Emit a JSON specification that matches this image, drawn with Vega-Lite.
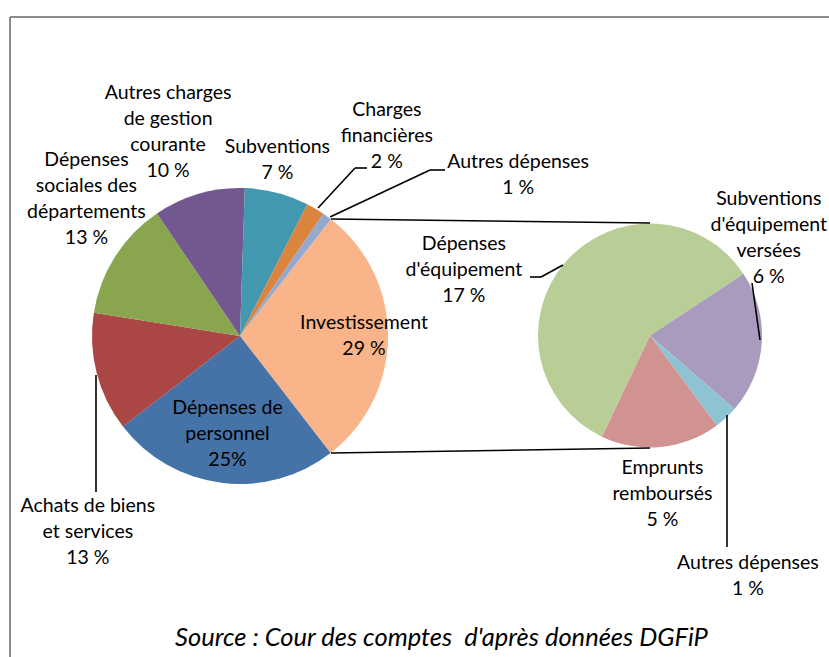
{
  "$schema": "https://vega.github.io/schema/vega-lite/v6.json",
  "width": 829,
  "height": 657,
  "autosize": "none",
  "padding": 0,
  "background": "white",
  "config": {
    "view": {"stroke": null},
    "text": {"font": "Lato", "fontSize": 19.5, "lineHeight": 26, "lineBreak": "\n", "color": "#000000", "align": "center", "baseline": "middle"},
    "rule": {"stroke": "#000000", "strokeWidth": 1.6}
  },
  "title": {
    "text": "Source : Cour des comptes \u00a0d'après données DGFiP",
    "orient": "bottom",
    "anchor": "middle",
    "frame": "group",
    "offset": -32,
    "dx": 27,
    "font": "Lato",
    "fontSize": 25.5,
    "fontStyle": "italic",
    "fontWeight": "normal",
    "color": "#000000"
  },
  "datasets": {
    "principal": [
      {"rang": 1, "poste": "Investissement", "part": 29, "etiquette": "Investissement\n29 %"},
      {"rang": 2, "poste": "Dépenses de personnel", "part": 25, "etiquette": "Dépenses de\npersonnel\n25%"},
      {"rang": 3, "poste": "Achats de biens et services", "part": 13, "etiquette": "Achats de biens\net services\n13 %"},
      {"rang": 4, "poste": "Dépenses sociales des départements", "part": 13, "etiquette": "Dépenses\nsociales des\ndépartements\n13 %"},
      {"rang": 5, "poste": "Autres charges de gestion courante", "part": 10, "etiquette": "Autres charges\nde gestion\ncourante\n10 %"},
      {"rang": 6, "poste": "Subventions", "part": 7, "etiquette": "Subventions\n7 %"},
      {"rang": 7, "poste": "Charges financières", "part": 2, "etiquette": "Charges\nfinancières\n2 %"},
      {"rang": 8, "poste": "Autres dépenses", "part": 1, "etiquette": "Autres dépenses\n1 %"}
    ],
    "investissement": [
      {"rang": 1, "poste": "Subventions d'équipement versées", "part": 6, "etiquette": "Subventions\nd'équipement\nversées\n6 %"},
      {"rang": 2, "poste": "Autres dépenses d'investissement", "part": 1, "etiquette": "Autres dépenses\n1 %"},
      {"rang": 3, "poste": "Emprunts remboursés", "part": 5, "etiquette": "Emprunts\nremboursés\n5 %"},
      {"rang": 4, "poste": "Dépenses d'équipement", "part": 17, "etiquette": "Dépenses\nd'équipement\n17 %"}
    ]
  },
  "layer": [
    {
      "data": {"name": "principal"},
      "transform": [{"filter": "datum.rang == 1"}],
      "layer": [
        {"mark": {"type": "rule", "stroke": "#8c8c8c", "strokeWidth": 2}, "encoding": {"x": {"value": 10}, "y": {"value": 17}, "x2": {"value": 829}, "y2": {"value": 17}}},
        {"mark": {"type": "rule", "stroke": "#8c8c8c", "strokeWidth": 2}, "encoding": {"x": {"value": 10}, "y": {"value": 17}, "x2": {"value": 10}, "y2": {"value": 657}}}
      ]
    },
    {
      "data": {"name": "principal"},
      "encoding": {
        "theta": {"field": "part", "type": "quantitative", "stack": true, "scale": {"domain": [0, 100], "range": [0.661, 6.944]}},
        "order": {"field": "rang", "type": "quantitative"},
        "detail": {"field": "poste", "type": "nominal"}
      },
      "layer": [
        {
          "mark": {"type": "arc", "outerRadius": 148, "x": 240, "y": 336},
          "encoding": {
            "color": {"field": "poste", "type": "nominal", "legend": null,
              "scale": {
                "domain": ["Investissement", "Dépenses de personnel", "Achats de biens et services", "Dépenses sociales des départements", "Autres charges de gestion courante", "Subventions", "Charges financières", "Autres dépenses"],
                "range": ["#F9B48A", "#4572A7", "#AA4643", "#89A54E", "#71588F", "#4198AF", "#DB843D", "#93A9CF"]
              }}
          }
        },
        {"mark": {"type": "text", "x": 240, "y": 336, "radius": 124, "dy": -13}, "encoding": {"text": {"condition": {"test": "datum.rang == 1", "field": "etiquette"}, "value": ""}}},
        {"mark": {"type": "text", "x": 240, "y": 336, "radius": 99, "dy": -26}, "encoding": {"text": {"condition": {"test": "datum.rang == 2", "field": "etiquette"}, "value": ""}}},
        {"mark": {"type": "text", "x": 240, "y": 336, "radius": 157, "dy": 131}, "encoding": {"text": {"condition": {"test": "datum.rang == 3", "field": "etiquette"}, "value": ""}}},
        {"mark": {"type": "text", "x": 240, "y": 336, "radius": 182, "dy": -78}, "encoding": {"text": {"condition": {"test": "datum.rang == 4", "field": "etiquette"}, "value": ""}}},
        {"mark": {"type": "text", "x": 240, "y": 336, "radius": 212, "dx": -13, "dy": -39}, "encoding": {"text": {"condition": {"test": "datum.rang == 5", "field": "etiquette"}, "value": ""}}},
        {"mark": {"type": "text", "x": 240, "y": 336, "radius": 182, "dx": -8, "dy": -13}, "encoding": {"text": {"condition": {"test": "datum.rang == 6", "field": "etiquette"}, "value": ""}}},
        {"mark": {"type": "text", "x": 240, "y": 336, "radius": 233, "dx": 28, "dy": -26}, "encoding": {"text": {"condition": {"test": "datum.rang == 7", "field": "etiquette"}, "value": ""}}},
        {"mark": {"type": "text", "x": 240, "y": 336, "radius": 199, "dx": 161, "dy": -13}, "encoding": {"text": {"condition": {"test": "datum.rang == 8", "field": "etiquette"}, "value": ""}}}
      ]
    },
    {
      "data": {"name": "investissement"},
      "encoding": {
        "theta": {"field": "part", "type": "quantitative", "stack": true, "scale": {"domain": [0, 29], "range": [0.986, 7.269]}},
        "order": {"field": "rang", "type": "quantitative"},
        "detail": {"field": "poste", "type": "nominal"}
      },
      "layer": [
        {
          "mark": {"type": "arc", "outerRadius": 112, "x": 650, "y": 335.5},
          "encoding": {
            "color": {"field": "poste", "type": "nominal", "legend": null,
              "scale": {
                "domain": ["Subventions d'équipement versées", "Autres dépenses d'investissement", "Emprunts remboursés", "Dépenses d'équipement"],
                "range": ["#A99BBD", "#8EC3D3", "#D19392", "#B9CD96"]
              }}
          }
        },
        {"mark": {"type": "text", "x": 650, "y": 335.5, "radius": 120, "dx": -1, "dy": -144}, "encoding": {"text": {"condition": {"test": "datum.rang == 1", "field": "etiquette"}, "value": ""}}},
        {"mark": {"type": "text", "x": 650, "y": 335.5, "radius": 144, "dy": 122}, "encoding": {"text": {"condition": {"test": "datum.rang == 2", "field": "etiquette"}, "value": ""}}},
        {"mark": {"type": "text", "x": 650, "y": 335.5, "radius": 159, "dx": -3, "dy": -26}, "encoding": {"text": {"condition": {"test": "datum.rang == 3", "field": "etiquette"}, "value": ""}}},
        {"mark": {"type": "text", "x": 650, "y": 335.5, "radius": 130, "dx": -88, "dy": -6}, "encoding": {"text": {"condition": {"test": "datum.rang == 4", "field": "etiquette"}, "value": ""}}}
      ]
    },
    {
      "data": {"name": "principal"},
      "transform": [{"filter": "datum.rang == 1"}],
      "layer": [
        {"mark": "rule", "encoding": {"x": {"value": 331}, "y": {"value": 219}, "x2": {"value": 650}, "y2": {"value": 223}}},
        {"mark": "rule", "encoding": {"x": {"value": 331}, "y": {"value": 453}, "x2": {"value": 650}, "y2": {"value": 448}}},
        {"mark": "rule", "encoding": {"x": {"value": 318}, "y": {"value": 208}, "x2": {"value": 355}, "y2": {"value": 168}}},
        {"mark": "rule", "encoding": {"x": {"value": 355}, "y": {"value": 168}, "x2": {"value": 367}, "y2": {"value": 168}}},
        {"mark": "rule", "encoding": {"x": {"value": 330}, "y": {"value": 217}, "x2": {"value": 430}, "y2": {"value": 170}}},
        {"mark": "rule", "encoding": {"x": {"value": 430}, "y": {"value": 170}, "x2": {"value": 445}, "y2": {"value": 170}}},
        {"mark": "rule", "encoding": {"x": {"value": 96}, "y": {"value": 375}, "x2": {"value": 96}, "y2": {"value": 492}}},
        {"mark": "rule", "encoding": {"x": {"value": 563}, "y": {"value": 265}, "x2": {"value": 541}, "y2": {"value": 277}}},
        {"mark": "rule", "encoding": {"x": {"value": 541}, "y": {"value": 277}, "x2": {"value": 530}, "y2": {"value": 277}}},
        {"mark": "rule", "encoding": {"x": {"value": 752}, "y": {"value": 283}, "x2": {"value": 760}, "y2": {"value": 340}}},
        {"mark": "rule", "encoding": {"x": {"value": 727}, "y": {"value": 415}, "x2": {"value": 727}, "y2": {"value": 547}}}
      ]
    }
  ],
  "resolve": {"scale": {"theta": "independent", "color": "independent"}}
}
